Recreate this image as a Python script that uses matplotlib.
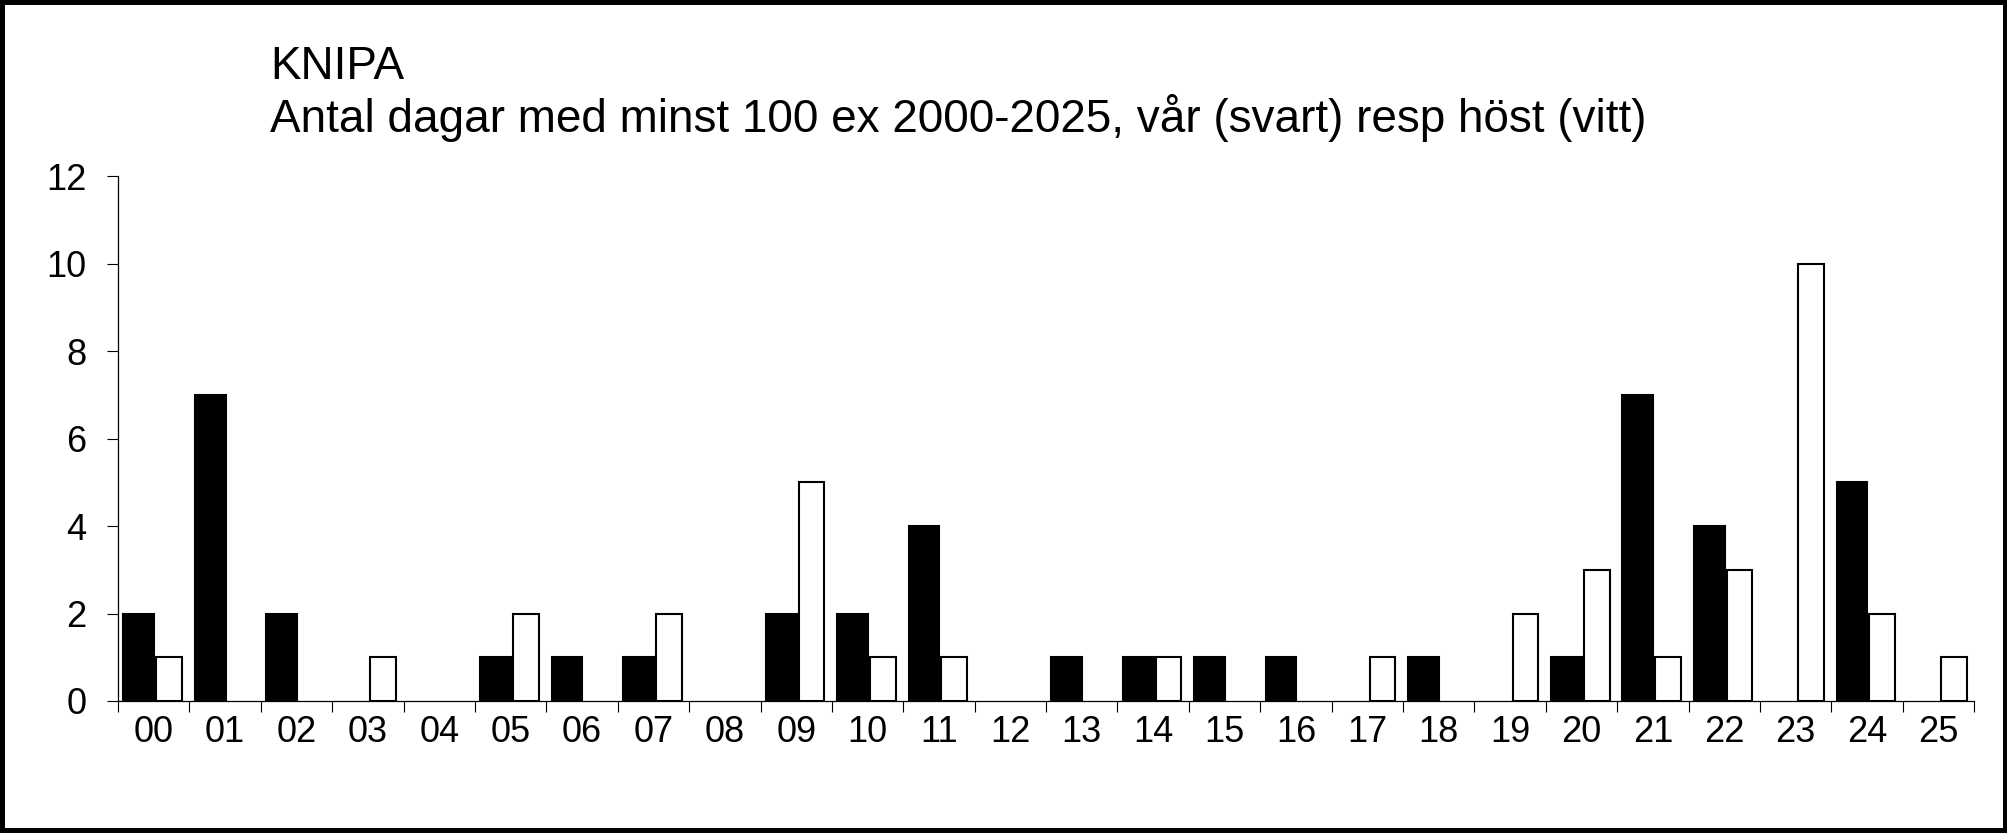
import numpy as np
from matplotlib import pyplot as plt

# KNIPA: days with at least 100 birds, spring (black) and autumn (white)
years = ['00', '01', '02', '03', '04', '05', '06', '07', '08', '09', '10', '11', '12',
         '13', '14', '15', '16', '17', '18', '19', '20', '21', '22', '23', '24', '25']
spring = [2, 7, 2, 0, 0, 1, 1, 1, 0, 2, 2, 4, 0, 1, 1, 1, 1, 0, 1, 0, 1, 7, 4, 0, 5, 0]
autumn = [1, 0, 0, 1, 0, 2, 0, 2, 0, 5, 1, 1, 0, 0, 1, 0, 0, 1, 0, 2, 3, 1, 3, 10, 2, 1]
y_ticks = [0, 2, 4, 6, 8, 10, 12]

plt.rcParams['font.family'] = ['Liberation Sans', 'DejaVu Sans']

fig = plt.figure(figsize=(20.08, 8.33), dpi=100)
fig.patch.set_edgecolor('black')
fig.patch.set_linewidth(7)
ax = fig.add_axes([0.0588, 0.1585, 0.9243, 0.630])

x = np.arange(len(years))
sp = np.array(spring)
au = np.array(autumn)
# skip zero bars so they don't thicken the axis line
ax.bar(x[sp > 0] - 0.21, sp[sp > 0], width=0.43, color='black', edgecolor='black', linewidth=1.5)
ax.bar(x[au > 0] + 0.215, au[au > 0], width=0.36, color='white', edgecolor='black', linewidth=1.5)

ax.set_xlim(-0.5, len(years) - 0.5)
ax.set_ylim(0, 12)
ax.set_yticks(y_ticks)
ax.set_yticklabels([str(v) for v in y_ticks])

# ticks between categories, labels centred
ax.set_xticks(np.arange(len(years) + 1) - 0.5)
ax.set_xticklabels([])
ax.set_xticks(x, minor=True)
ax.set_xticklabels(years, minor=True)

ax.tick_params(axis='x', which='major', direction='out', length=8, width=0.8)
ax.tick_params(axis='x', which='minor', length=0, pad=10, labelsize=26)
ax.tick_params(axis='y', direction='out', length=8, width=0.8, pad=15, labelsize=26)

for s in ['top', 'right']:
    ax.spines[s].set_visible(False)
for s in ['left', 'bottom']:
    ax.spines[s].set_linewidth(0.9)

fig.text(0.1345, 0.9052, 'KNIPA', fontsize=33, va='baseline', ha='left')
fig.text(0.1345, 0.8415, 'Antal dagar med minst 100 ex 2000-2025, vår (svart) resp höst (vitt)',
         fontsize=33, va='baseline', ha='left')

plt.savefig('out.png', dpi=100)
plt.close()
